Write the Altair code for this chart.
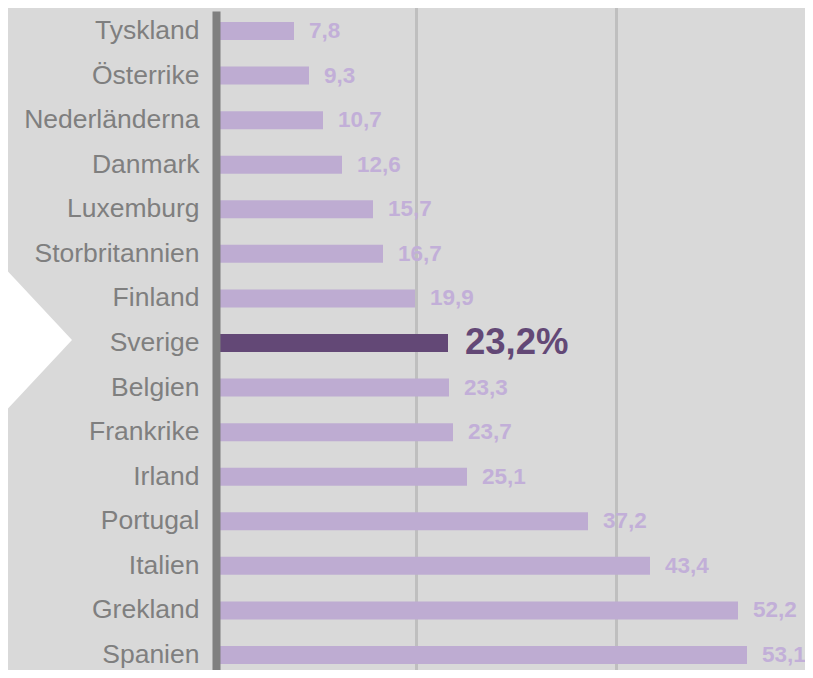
import altair as alt
import pandas as pd

countries = ["Tyskland", "Österrike", "Nederländerna", "Danmark", "Luxemburg",
             "Storbritannien", "Finland", "Sverige", "Belgien", "Frankrike",
             "Irland", "Portugal", "Italien", "Grekland", "Spanien"]
values = [7.8, 9.3, 10.7, 12.6, 15.7, 16.7, 19.9, 23.2, 23.3, 23.7, 25.1, 37.2, 43.4, 52.2, 53.1]
highlight = "Sverige"

LIGHT = "#beacd2"
DARK = "#634876"

labels = [f"{v:.1f}".replace(".", ",") + ("%" if c == highlight else "") for c, v in zip(countries, values)]
df = pd.DataFrame({"land": countries, "andel": values, "etikett": labels,
                   "hl": [c == highlight for c in countries]})

W, H = 589, 659
xscale = alt.Scale(domain=[0, W / 10], nice=False, zero=True)
yscale = alt.Scale(range=[0, 664], paddingInner=0.596, paddingOuter=0.247)

base = alt.Chart(df).encode(
    y=alt.Y("land:N", sort=countries, scale=yscale,
            axis=alt.Axis(title=None, ticks=False, labelPadding=17, labelFontSize=26.5,
                          labelColor="#7f7f7f", labelFont="Liberation Sans",
                          domainColor="#7f7f7f", domainWidth=8, zindex=1)),
)

bars = base.mark_bar().encode(
    x=alt.X("andel:Q", scale=xscale,
            axis=alt.Axis(values=[20, 40], grid=True, gridColor="#bfbfbf", gridWidth=3,
                          labels=False, ticks=False, domain=False, title=None)),
    color=alt.condition(alt.datum.hl, alt.value(DARK), alt.value(LIGHT)),
)

txt_light = base.transform_filter(~alt.datum.hl).mark_text(
    align="left", baseline="middle", dx=15, fontSize=22.5, fontWeight="bold",
    font="Liberation Sans", color="#c2afd8"
).encode(x=alt.X("andel:Q", scale=xscale), text="etikett:N")

txt_dark = base.transform_filter(alt.datum.hl).mark_text(
    align="left", baseline="middle", dx=17, fontSize=36.5, fontWeight="bold",
    font="Liberation Sans", color=DARK
).encode(x=alt.X("andel:Q", scale=xscale), text="etikett:N")

chevron = alt.Chart(pd.DataFrame({"k": [0]})).mark_point(
    shape="M1,0L-1,-2.14L-1,2.14Z", filled=True, fill="white", opacity=1,
    size=26244, strokeWidth=0
).encode(x=alt.value(-225), y=alt.value(329))

chart = alt.layer(chevron, bars, txt_light, txt_dark).properties(
    width=W, height=H,
    autosize=alt.AutoSizeParams(type="none"),
    padding={"left": 208, "top": 3, "right": 0, "bottom": 0},
    background="#d9d9d9",
).configure_view(stroke=None)

chart.save("out.html", embed_options={"renderer": "svg", "actions": False})
